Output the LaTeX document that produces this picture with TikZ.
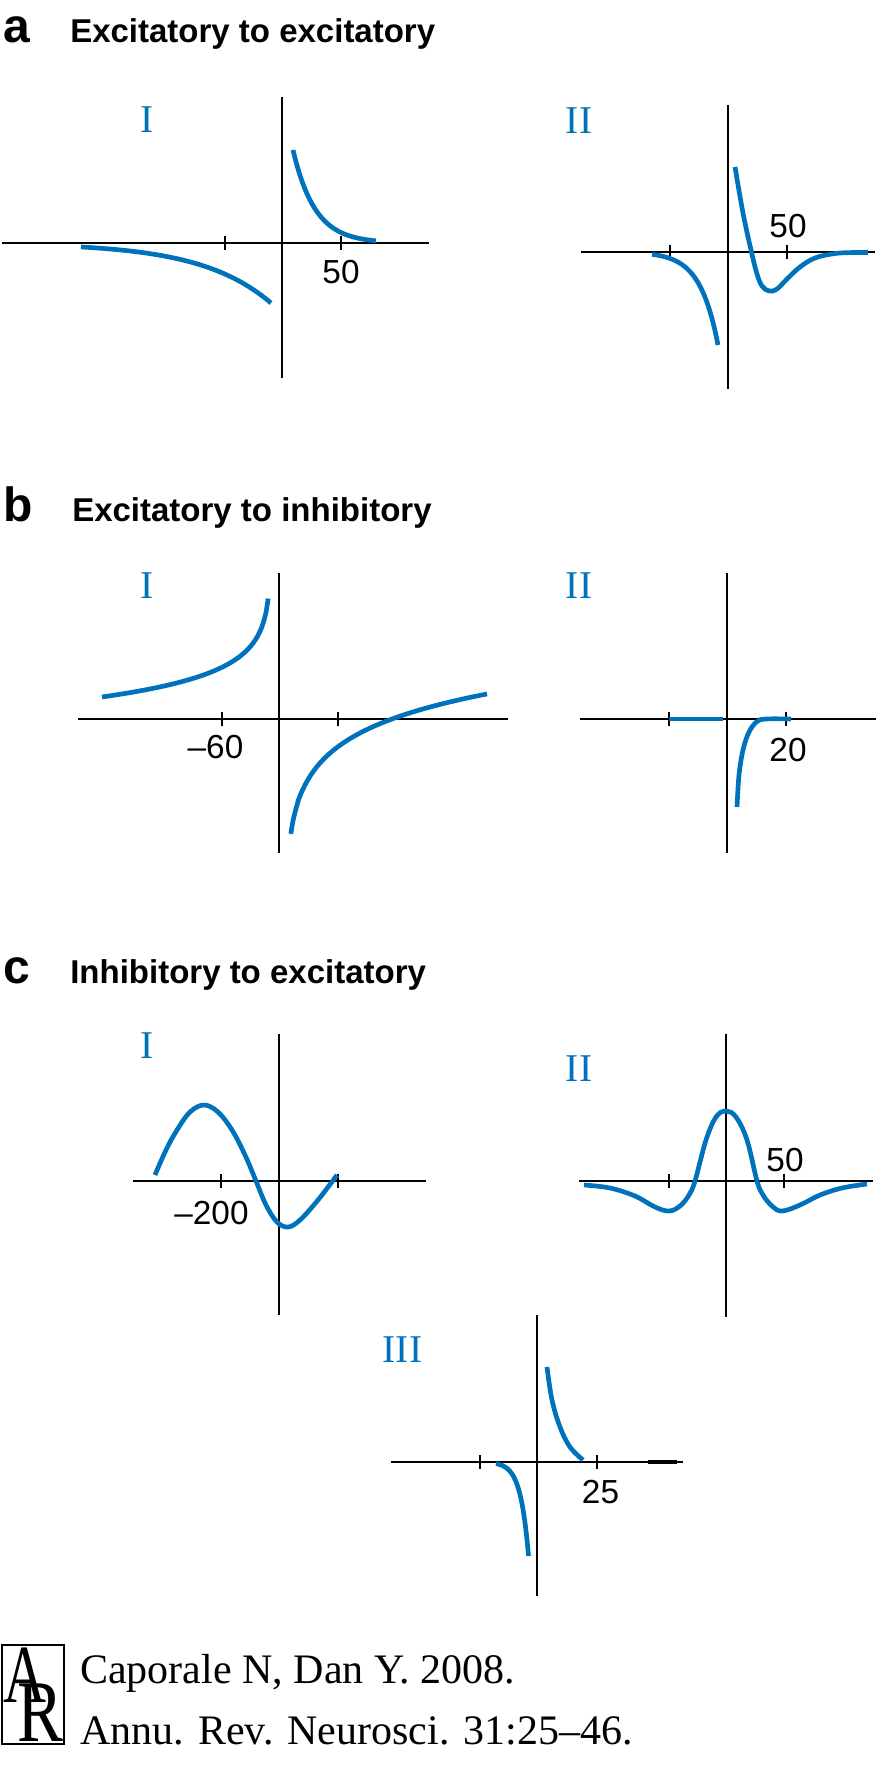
\documentclass[tikz,border=0pt]{standalone}
\usepackage{fontspec}
\setmainfont{Liberation Serif}
\setsansfont{Liberation Sans}
\definecolor{curveblue}{RGB}{0,114,188}
\tikzset{
  axisline/.style={line width=1.5pt, black},
  tickmark/.style={line width=1.2pt, black},
  curve/.style={line width=3.5pt, curveblue},
  panel/.style={font=\fontsize{36}{36}\selectfont\sffamily\bfseries, anchor=base west, inner sep=0pt},
  heading/.style={font=\fontsize{24.75}{25}\selectfont\sffamily\bfseries, anchor=base west, inner sep=0pt},
  roman/.style={font=\fontsize{29.5}{30}\selectfont\rmfamily, text=curveblue, inner sep=0pt},
  ticklabel/.style={font=\fontsize{25}{25}\selectfont\sffamily, anchor=base, inner sep=0pt},
  citetext/.style={font=\fontsize{31.5}{32}\selectfont\rmfamily, anchor=base west, inner sep=0pt},
}
\newcommand\mytick[2]{\draw[tickmark] (#1,{#2-7}) -- (#1,{#2+7});}
\begin{document}
\begin{tikzpicture}[x=0.75pt,y=-0.75pt]
\useasboundingbox (0,0) rectangle (876,1765);
\fill[white] (0,0) rectangle (876,1765);

% ---------- panel a ----------
\node[panel] (la) at (3,43) {a};
\node[heading] (ta) at (70,43) {Excitatory to excitatory};
% a-I
\draw[axisline] (2,243) -- (429,243);
\draw[axisline] (282,97) -- (282,378);
\mytick{225}{243}\mytick{341}{243}
\node[ticklabel] (aIx) at (341,284) {50};
\node[roman] (aI) at (147,120) {I};
\draw[curve] plot[domain=81:271, samples=60] (\x, {243 + 60*exp((\x-271)/70)});
\draw[curve] plot[domain=293:376, samples=60] (\x, {243 - 93*exp(-(\x-293)/22)});
% a-II
\draw[axisline] (581,252) -- (875,252);
\draw[axisline] (728,105) -- (728,389);
\mytick{670}{252}\mytick{787}{252}
\node[ticklabel] (aIIx) at (788,238) {50};
\node[roman] (aII) at (579,121) {II};
\draw[curve] plot[domain=652:718, samples=60] (\x, {252 + 93*exp((\x-718)/18)});
\draw[curve] plot[smooth, tension=0.6] coordinates {(735,167) (743,213) (751,250) (757,274) (762,286) (769,291) (777,289) (787,279) (800,267) (815,258) (835,253.5) (855,252.5) (868,252.5)};

% ---------- panel b ----------
\node[panel] (lb) at (3,521) {b};
\node[heading] (tb) at (72,521) {Excitatory to inhibitory};
% b-I
\draw[axisline] (78,719) -- (508,719);
\draw[axisline] (279,573) -- (279,853);
\mytick{222}{719}\mytick{338}{719}
\node[ticklabel] (bIx) at (215.5,758) {–60};
\node[roman] (bI) at (147,586) {I};
\draw[curve] plot[domain=102:268.2, samples=80] (\x, {719 - 24*ln(423/(271-\x))});
\draw[curve] plot[domain=290.8:487, samples=100] (\x, {719 - 39.4*ln((\x-285)/107)});
% b-II
\draw[axisline] (580,719) -- (876,719);
\draw[axisline] (727,573) -- (727,853);
\mytick{669}{719}\mytick{786}{719}
\node[ticklabel] (bIIx) at (788,761) {20};
\node[roman] (bII) at (579,586) {II};
\draw[curve] (669,719) -- (723,719);
\draw[curve] plot[smooth, tension=0.6] coordinates {(737,807) (739,775) (743,750) (749,732) (757,721.5) (766,719) (791,719)};

% ---------- panel c ----------
\node[panel] (lc) at (3,983) {c};
\node[heading] (tc) at (70,983) {Inhibitory to excitatory};
% c-I
\draw[axisline] (133,1181) -- (426,1181);
\draw[axisline] (279,1034) -- (279,1315);
\mytick{221}{1181}\mytick{338}{1181}
\node[ticklabel] (cIx) at (211.5,1224) {–200};
\node[roman] (cI) at (147,1046) {I};
\draw[curve] plot[smooth, tension=0.6] coordinates {(155,1175) (166,1150) (177,1130) (190,1112) (204,1105) (218,1112) (232,1130) (245,1155) (256,1181) (266,1205) (277,1222) (288,1227) (300,1220) (318,1200) (337,1175)};
% c-II
\draw[axisline] (579,1181) -- (873,1181);
\draw[axisline] (726,1034) -- (726,1317);
\mytick{669}{1181}\mytick{784}{1181}
\node[ticklabel] (cIIx) at (785,1171) {50};
\node[roman] (cII) at (579,1069) {II};
\draw[curve] plot[smooth, tension=0.6] coordinates {(584,1185) (610,1188) (635,1196) (655,1207) (669,1211) (680,1206) (689,1195) (695,1181) (706,1140) (716,1117) (726,1111) (736,1117) (747,1140) (757,1181) (763,1195) (772,1206) (782,1211) (800,1205) (820,1195) (842,1188) (867,1184)};
% c-III
\draw[axisline] (391,1462) -- (683,1462);
\draw[line width=2.6pt, black] (648,1462) -- (677,1462);
\draw[axisline] (537,1315) -- (537,1596);
\mytick{480}{1462}\mytick{597}{1462}
\node[ticklabel] (cIIIx) at (600.5,1503) {25};
\node[roman] (cIII) at (402.5,1350) {III};
\draw[curve] plot[domain=496:528.5, samples=60] (\x, {1462 + 94*exp((\x-528.5)/8)});
\draw[curve] plot[smooth, tension=0.6] coordinates {(547,1367) (552,1400) (560,1427) (570,1447) (583,1460)};

% ---------- citation ----------
\draw[line width=0.9pt] (2,1645) rectangle (64,1744);
\node[inner sep=0pt, anchor=base west, font=\rmfamily] (logo) at (3.5,1741)
  {\rlap{\raisebox{29.25pt}{\fontsize{62}{62}\selectfont\scalebox{0.72}[1]{A}}}\hspace{10.2pt}{\fontsize{66}{66}\selectfont\scalebox{0.78}[1]{R}}};
\node[citetext] (cite1) at (80,1683) {Caporale N, Dan Y. 2008.};
\node[citetext] (cite2) at (80,1744) {Annu. Rev. Neurosci. 31:25–46.};
\end{tikzpicture}
\end{document}
